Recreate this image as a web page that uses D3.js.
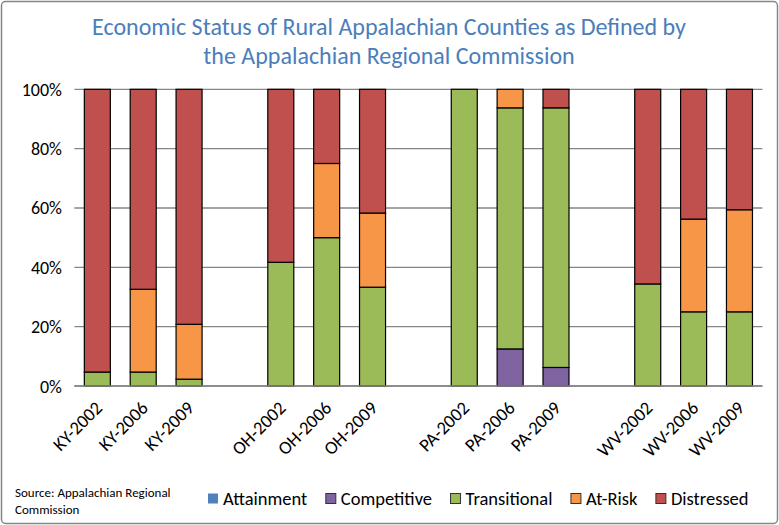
<!DOCTYPE html>
<html>
<head>
<meta charset="utf-8">
<script src="https://cdn.jsdelivr.net/npm/d3@7"></script>
<style>
  body { margin: 0; background: #fff; }
  svg { display: block; font-family: Carlito, Lato, "Open Sans", sans-serif; }
</style>
</head>
<body>
<div id="chart"></div>
<script>
// categories, grouped by state (a blank slot sits between groups)
const groups = [
  ["KY-2002", "KY-2006", "KY-2009"],
  ["OH-2002", "OH-2006", "OH-2009"],
  ["PA-2002", "PA-2006", "PA-2009"],
  ["WV-2002", "WV-2006", "WV-2009"]
];
const series = ["Attainment", "Competitive", "Transitional", "At-Risk", "Distressed"];
const colors = ["#4f81bd", "#8064a2", "#9bbb59", "#f79646", "#c0504d"];

// percent of counties, in the same order as groups flattened
const attainment   = [0, 0, 0,   0, 0, 0,   0, 0, 0,   0, 0, 0];
const competitive  = [0, 0, 0,   0, 0, 0,   0, 12.5, 6.25,   0, 0, 0];
const transitional = [4.7, 4.7, 2.3,   41.7, 50, 33.3,   100, 81.25, 87.5,   34.4, 25, 25];
const atRisk       = [0, 27.9, 18.5,   0, 25, 25,   0, 6.25, 0,   0, 31.25, 34.4];
const distressed   = [95.3, 67.4, 79.2,   58.3, 25, 41.7,   0, 0, 6.25,   65.6, 43.75, 40.6];

const yTicks = [0, 20, 40, 60, 80, 100];

const width = 779, height = 525;
const margin = { left: 74.4, right: 16.6, top: 89.3, bottom: 139 };

const svg = d3.select("#chart").append("svg")
  .attr("width", width)
  .attr("height", height);

// outer frame
svg.append("rect")
  .attr("x", 1.5).attr("y", 1.5)
  .attr("width", width - 3).attr("height", height - 3)
  .attr("rx", 4)
  .attr("fill", "#fff")
  .attr("stroke", "#868686")
  .attr("stroke-width", 1.5);

// title
svg.append("text")
  .attr("x", 389).attr("y", 35)
  .attr("text-anchor", "middle")
  .attr("fill", "#4a7ebb")
  .attr("font-size", 24)
  .text("Economic Status of Rural Appalachian Counties as Defined by");
svg.append("text")
  .attr("x", 389).attr("y", 64)
  .attr("text-anchor", "middle")
  .attr("fill", "#4a7ebb")
  .attr("font-size", 24)
  .text("the Appalachian Regional Commission");

// build band domain with spacer slots
let categories = [];
let domain = [];
groups.forEach((g, i) => {
  if (i > 0) { domain.push("gap" + i); }
  g.forEach((c) => { categories.push(c); domain.push(c); });
});

const x = d3.scaleBand()
  .domain(domain)
  .range([margin.left, width - margin.right])
  .paddingInner(0.433)
  .paddingOuter(0.2165);

const y = d3.scaleLinear()
  .domain([0, 100])
  .range([height - margin.bottom, margin.top]);

// gridlines
svg.append("g")
  .selectAll("line")
  .data(yTicks)
  .join("line")
  .attr("x1", margin.left).attr("x2", width - margin.right)
  .attr("y1", (d) => y(d)).attr("y2", (d) => y(d))
  .attr("stroke", "#868686")
  .attr("stroke-width", 1.3);

// y labels
svg.append("g")
  .selectAll("text")
  .data(yTicks)
  .join("text")
  .attr("x", 62)
  .attr("y", (d) => y(d) + 6.5)
  .attr("text-anchor", "end")
  .attr("font-size", 18)
  .attr("fill", "#000")
  .text((d) => d + "%");

// stack
const valueLists = [attainment, competitive, transitional, atRisk, distressed];
const rows = categories.map((c, i) => {
  let row = { cat: c };
  series.forEach((s, j) => { row[s] = valueLists[j][i]; });
  return row;
});
const stacked = d3.stack().keys(series)(rows);

svg.append("g")
  .selectAll("g")
  .data(stacked)
  .join("g")
  .attr("fill", (d, i) => colors[i])
  .selectAll("rect")
  .data((d) => d.filter((p) => p[1] - p[0] > 0))
  .join("rect")
  .attr("x", (d) => x(d.data.cat))
  .attr("width", x.bandwidth())
  .attr("y", (d) => y(d[1]))
  .attr("height", (d) => y(d[0]) - y(d[1]))
  .attr("stroke", "#000")
  .attr("stroke-width", 1.2);

// x axis line
svg.append("line")
  .attr("x1", margin.left).attr("x2", width - margin.right)
  .attr("y1", y(0)).attr("y2", y(0))
  .attr("stroke", "#868686")
  .attr("stroke-width", 1.3);

// x labels, rotated
svg.append("g")
  .selectAll("text")
  .data(categories)
  .join("text")
  .attr("transform", (d) => {
    let cx = x(d) + x.bandwidth() / 2 + 6;
    return "translate(" + cx + "," + 409 + ") rotate(-45)";
  })
  .attr("text-anchor", "end")
  .attr("font-size", 18.5)
  .attr("fill", "#000")
  .text((d) => d);

// source note
svg.append("text")
  .attr("x", 15).attr("y", 497)
  .attr("font-size", 13)
  .attr("fill", "#000")
  .text("Source: Appalachian Regional");
svg.append("text")
  .attr("x", 15).attr("y", 514)
  .attr("font-size", 13)
  .attr("fill", "#000")
  .text("Commission");

// legend
const legend = svg.append("g");
let lx = 208;
series.forEach((s, i) => {
  legend.append("rect")
    .attr("x", lx).attr("y", 493.5)
    .attr("width", 10).attr("height", 10)
    .attr("fill", colors[i])
    .attr("stroke", i == 0 ? "none" : "#333")
    .attr("stroke-width", 1);
  let t = legend.append("text")
    .attr("x", lx + 15).attr("y", 505)
    .attr("font-size", 18.5)
    .attr("fill", "#000")
    .text(s);
  lx += 15 + t.node().getComputedTextLength() + 18.5;
});
</script>
</body>
</html>
